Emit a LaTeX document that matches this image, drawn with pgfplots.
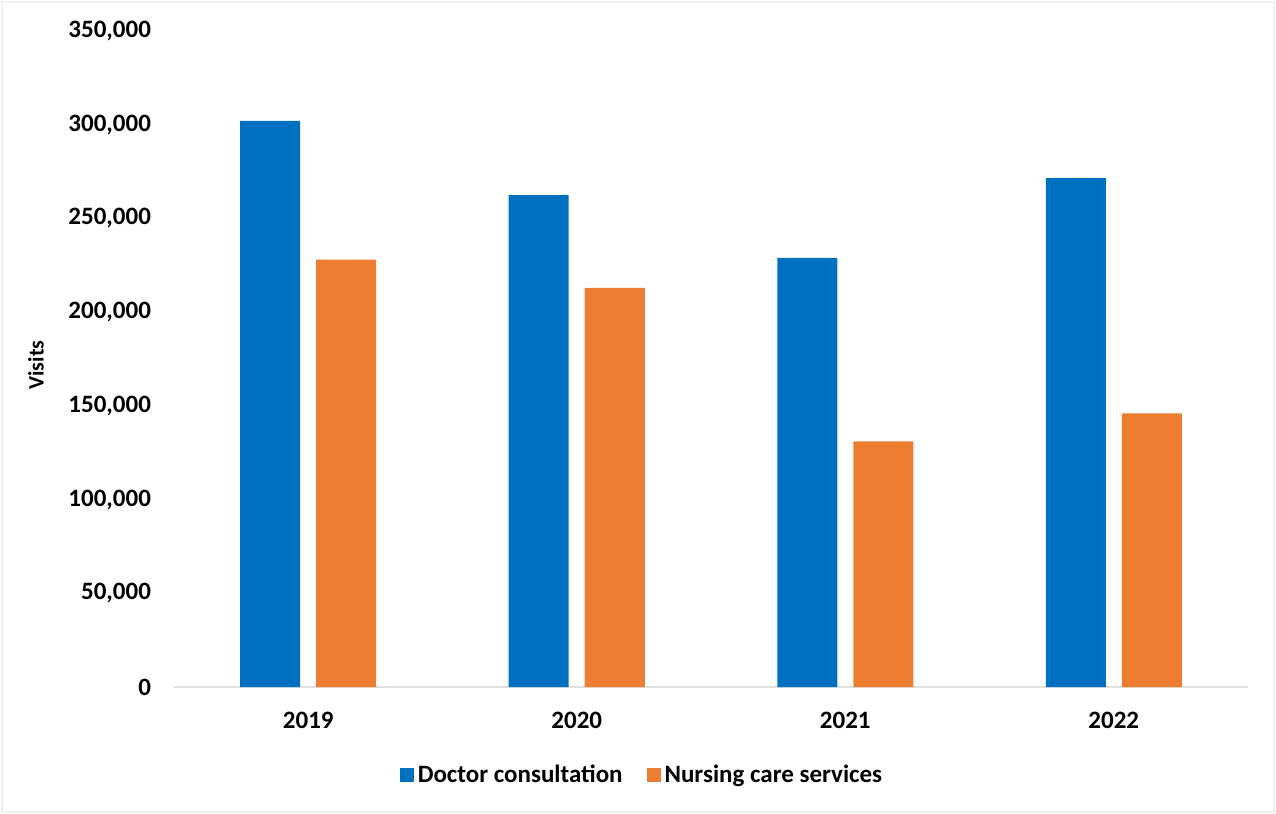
\documentclass[border=0pt]{standalone}
\usepackage{fontspec}
\setmainfont{Carlito}
\usepackage{pgfplots}
\pgfplotsset{compat=1.18}
\definecolor{docblue}{HTML}{0070C0}
\definecolor{nurseorange}{HTML}{ED7D31}
\begin{document}
\begin{tikzpicture}
\useasboundingbox (-87pt,-63.5pt) rectangle (551pt,343.5pt);
\draw[black!6, line width=1pt] (-86pt,-62.5pt) rectangle (550pt,342.5pt);
\begin{axis}[
  at={(0,0)}, anchor=south west,
  scale only axis,
  width=537pt, height=328pt,
  ymin=0, ymax=350000,
  xmin=-0.5, xmax=3.5,
  xtick={0,1,2,3},
  xticklabels={2019,2020,2021,2022},
  ytick={0,50000,...,350000},
  ybar, bar width=30pt, bar shift auto=false,
  axis x line*=bottom, axis y line*=left,
  x axis line style={black!12, line width=1pt, -},
  y axis line style={draw=none},
  major tick length=0pt,
  tick style={draw=none},
  /pgf/number format/assume math mode=true,
  /pgf/number format/1000 sep={,},
  /pgf/number format/fixed,
  scaled y ticks=false,
  ticklabel style={font=\fontsize{12.5}{14}\selectfont\bfseries},
  yticklabel style={xshift=-8pt},
  xticklabel style={yshift=-9pt},
  ylabel={Visits},
  every axis y label/.style={at={(axis description cs:0,0.5)}, xshift=-69pt, yshift=-3pt, rotate=90, anchor=center, font=\fontsize{11}{13}\selectfont\bfseries},
  legend columns=2,
  legend style={draw=none, at={(axis description cs:0.5,0)}, anchor=center, xshift=-34pt, yshift=-44pt,
    font=\fontsize{12.5}{14}\selectfont\bfseries, /tikz/every even column/.append style={column sep=10pt}},
  legend image code/.code={\fill[#1] (0pt,-3.5pt) rectangle (7pt,3.5pt);},
]
\addplot[fill=docblue, draw=none, bar shift=-19pt] coordinates {(0,302000) (1,262500) (2,229000) (3,271500)};
\addplot[fill=nurseorange, draw=none, bar shift=19pt] coordinates {(0,228000) (1,213000) (2,131000) (3,146000)};
\legend{Doctor consultation, Nursing care services}
\end{axis}
\end{tikzpicture}
\end{document}
